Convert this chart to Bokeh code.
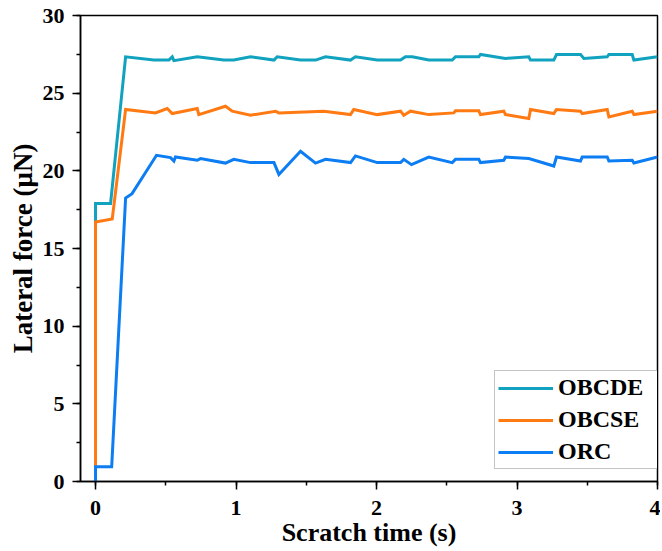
from bokeh.plotting import figure
from bokeh.models import Range1d, SingleIntervalTicker, Legend, LegendItem
from bokeh.embed import file_html
from bokeh.resources import INLINE

# ---- data ----
obcde_t = [0, 0, 0.107, 0.214, 0.415, 0.522, 0.546, 0.558, 0.724, 0.913, 0.984, 1.103, 1.27, 1.293,
           1.459, 1.566, 1.637, 1.815, 1.85, 2.005, 2.171, 2.206, 2.254, 2.372, 2.539, 2.562, 2.728,
           2.74, 2.918, 3.084, 3.096, 3.262, 3.281, 3.452, 3.476, 3.642, 3.654, 3.82, 3.832, 4.0]
obcde_f = [8.4, 17.9, 17.9, 27.34, 27.13, 27.13, 27.34, 27.09, 27.34, 27.13, 27.13, 27.34, 27.13, 27.34,
           27.13, 27.13, 27.34, 27.13, 27.34, 27.13, 27.13, 27.34, 27.34, 27.13, 27.13, 27.34, 27.34,
           27.49, 27.24, 27.34, 27.13, 27.13, 27.49, 27.49, 27.24, 27.34, 27.49, 27.49, 27.13, 27.34]

obcse_t = [0, 0, 0.119, 0.214, 0.427, 0.51, 0.546, 0.724, 0.735, 0.925, 0.973, 1.103, 1.281, 1.305,
           1.625, 1.815, 1.838, 2.005, 2.171, 2.194, 2.242, 2.372, 2.55, 2.562, 2.728, 2.74, 2.906,
           2.918, 3.084, 3.096, 3.262, 3.281, 3.452, 3.464, 3.642, 3.654, 3.82, 3.832, 4.0]
obcse_f = [0.8, 16.7, 16.9, 23.95, 23.73, 24.01, 23.69, 24.01, 23.62, 24.16, 23.84, 23.58, 23.84, 23.73,
           23.84, 23.62, 23.95, 23.62, 23.84, 23.58, 23.84, 23.62, 23.73, 23.86, 23.86, 23.62, 23.84,
           23.62, 23.37, 23.95, 23.69, 23.95, 23.84, 23.69, 23.95, 23.47, 23.84, 23.62, 23.84]

orc_t = [0, 0, 0.115, 0.214, 0.26, 0.434, 0.534, 0.558, 0.569, 0.724, 0.747, 0.925, 0.984, 1.103,
         1.27, 1.305, 1.459, 1.566, 1.637, 1.815, 1.85, 2.005, 2.171, 2.194, 2.249, 2.372, 2.539,
         2.562, 2.728, 2.74, 2.906, 2.918, 3.084, 3.262, 3.281, 3.452, 3.464, 3.642, 3.654, 3.82,
         3.832, 4.0]
orc_f = [0, 0.95, 0.95, 18.25, 18.53, 21.0, 20.85, 20.63, 20.89, 20.68, 20.79, 20.5, 20.74, 20.53,
         20.53, 19.77, 21.26, 20.5, 20.74, 20.53, 20.96, 20.53, 20.53, 20.74, 20.4, 20.89, 20.53,
         20.74, 20.74, 20.53, 20.68, 20.89, 20.79, 20.31, 20.89, 20.63, 20.89, 20.89, 20.63, 20.68,
         20.5, 20.89]

series_names = ["OBCDE", "OBCSE", "ORC"]
series_colors = ["#10A2BE", "#FF7A12", "#0C7DF2"]

FONT = "Liberation Serif"

p = figure(width=660, height=549, output_backend="svg", toolbar_location=None,
           x_range=Range1d(-0.107, 4.0), y_range=Range1d(0, 30),
           min_border_left=80, min_border_right=3, min_border_top=15, min_border_bottom=68)

p.xgrid.visible = False
p.ygrid.visible = False
p.outline_line_color = "black"
p.outline_line_width = 1.5
p.background_fill_color = "white"
p.border_fill_color = "white"

p.xaxis.ticker = SingleIntervalTicker(interval=1, num_minor_ticks=2)
p.yaxis.ticker = SingleIntervalTicker(interval=5, num_minor_ticks=2)

for ax in (p.xaxis[0], p.yaxis[0]):
    ax.axis_line_color = "black"
    ax.axis_line_width = 1.5
    ax.major_tick_line_color = "black"
    ax.major_tick_line_width = 1.5
    ax.minor_tick_line_color = "black"
    ax.minor_tick_line_width = 1.5
    ax.major_tick_in = 0
    ax.major_tick_out = 8
    ax.minor_tick_in = 0
    ax.minor_tick_out = 4
    ax.major_label_text_font = FONT
    ax.major_label_text_font_style = "bold"
    ax.major_label_text_font_size = "22px"
    ax.major_label_text_color = "black"
    ax.axis_label_text_font = FONT
    ax.axis_label_text_font_style = "bold"
    ax.axis_label_text_color = "black"

p.xaxis.axis_label = "Scratch time (s)"
p.yaxis.axis_label = "Lateral force (μN)"
p.xaxis.axis_label_text_font_size = "26px"
p.yaxis.axis_label_text_font_size = "27px"
p.xaxis.major_label_standoff = 11
p.yaxis.major_label_standoff = 8
p.xaxis.axis_label_standoff = 0
p.yaxis.axis_label_standoff = 2

renderers = []
for t, f, c in zip([obcde_t, obcse_t, orc_t], [obcde_f, obcse_f, orc_f], series_colors):
    r = p.line(t, f, line_color=c, line_width=3, line_join="miter")
    renderers.append(r)

legend = Legend(items=[LegendItem(label=n, renderers=[r]) for n, r in zip(series_names, renderers)],
                location=(414, 12))
legend.label_text_font = FONT
legend.label_text_font_style = "bold"
legend.label_text_font_size = "24px"
legend.label_text_color = "black"
legend.glyph_width = 55
legend.glyph_height = 26
legend.label_height = 26
legend.label_width = 97
legend.label_standoff = 5
legend.spacing = 5
legend.padding = 3
legend.margin = 0
legend.border_line_color = "#8a8a8a"
legend.border_line_width = 1.2
legend.background_fill_color = "white"
legend.background_fill_alpha = 1.0
p.add_layout(legend, "center")

open("out.html", "w").write(file_html(p, INLINE))
